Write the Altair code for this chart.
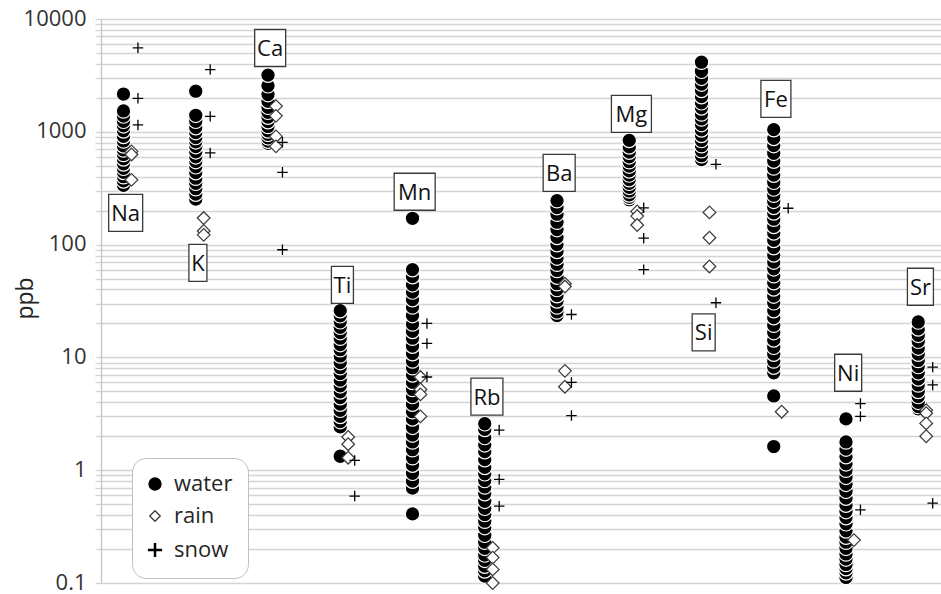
import altair as alt
import pandas as pd

# Trace-element concentrations (ppb) in stream water, rain and snow samples
elements = ["Na", "K", "Ca", "Ti", "Mn", "Rb", "Ba", "Mg", "Si", "Fe", "Ni", "Sr"]

water = {
    "Na": [2160, 1530, 1380, 1240, 1130, 1020, 910, 830, 750, 690, 630, 575, 520, 475, 437, 400, 367, 335],
    "K": [2290, 1400, 1240, 1090, 985, 890, 815, 740, 665, 600, 545, 490, 435, 388, 350, 313, 280, 253],
    "Ca": [3180, 2560, 2140, 1860, 1650, 1490, 1350, 1230, 1115, 1020, 950, 885, 827, 790],
    "Ti": [26, 23.4, 20.7, 18.5, 16.6, 14.8, 13, 11.7, 10.3, 9, 8.1, 7.2, 6.3, 5.6, 4.95, 4.4,
           3.85, 3.4, 3.0, 2.7, 2.42, 1.33],
    "Mn": [171, 60, 52, 44, 38, 32.5, 28, 23.5, 19.8, 17, 14.8, 12.6, 10.8, 9.3, 8.1, 7, 6, 5.2,
           4.5, 3.85, 3.3, 2.85, 2.4, 2.05, 1.78, 1.52, 1.29, 1.11, 0.94, 0.8, 0.695, 0.41],
    "Rb": [2.58, 2.3, 1.95, 1.68, 1.46, 1.24, 1.06, 0.93, 0.81, 0.71, 0.62, 0.53, 0.46, 0.405,
           0.353, 0.31, 0.265, 0.23, 0.203, 0.177, 0.159, 0.141, 0.128, 0.115],
    "Ba": [245, 213, 186, 158, 136, 116, 100, 87, 76, 67, 59, 51.5, 45, 40, 35.3, 31.7, 28, 25.3, 23.5],
    "Mg": [840, 735, 660, 600, 543, 497, 450, 414, 377, 350, 322, 299, 276, 262, 250],
    "Si": [4140, 3440, 2980, 2650, 2330, 2050, 1810, 1630, 1440, 1300, 1160, 1040, 930, 837,
           753, 680, 614, 567],
    "Fe": [1045, 875, 755, 645, 550, 478, 413, 357, 311, 274, 242, 214, 191, 168, 145, 127, 109,
           94, 81, 70, 61, 53, 46, 40.5, 35, 30.5, 26, 22.5, 19.3, 16.6, 14.3, 12.3, 10.7, 9.3,
           8.2, 7.3, 4.55, 1.62],
    "Ni": [2.85, 1.78, 1.54, 1.32, 1.14, 1.0, 0.865, 0.75, 0.65, 0.565, 0.49, 0.43, 0.38, 0.335,
           0.29, 0.255, 0.23, 0.203, 0.181, 0.163, 0.146, 0.134, 0.123, 0.112],
    "Sr": [20.6, 17.9, 15.7, 13.9, 12.1, 10.7, 9.4, 8.3, 7.3, 6.45, 5.7, 5.0, 4.5, 4.0, 3.67, 3.5],
}

rain = {
    "Na": [670, 630, 375],
    "K": [172, 132, 122],
    "Ca": [1690, 1385, 910, 743],
    "Ti": [1.97, 1.70, 1.29],
    "Mn": [6.7, 5.2, 4.7, 3.0],
    "Rb": [0.205, 0.168, 0.132, 0.1],
    "Ba": [45, 42.5, 7.6, 5.5],
    "Mg": [197, 179, 149],
    "Si": [193, 115, 64],
    "Fe": [3.3],
    "Ni": [0.24],
    "Sr": [3.4, 3.2, 2.6, 2.0],
}

snow = {
    "Na": [5550, 1980, 1150],
    "K": [3560, 1370, 650],
    "Ca": [807, 437, 90],
    "Ti": [1.22, 0.59],
    "Mn": [20, 13.3, 6.7],
    "Rb": [2.27, 0.83, 0.48],
    "Ba": [24, 6, 3.05],
    "Mg": [212, 114, 60],
    "Si": [515, 30.5],
    "Fe": [210],
    "Ni": [3.9, 3.0, 0.445],
    "Sr": [8.2, 5.7, 0.51],
}

# level (ppb) at which each element's name tag sits
label_level = [191, 69, 5530, 44, 294, 4.49, 432, 1443, 16.7, 1955, 7.31, 42.3]

sample_types = ["water", "rain", "snow"]

# ---- styling -------------------------------------------------------------
FONT = "Open Sans"
TEXT = "#262626"
GRID = "#d4d4d4"
type_offset = {"water": 0.0, "rain": 0.11, "snow": 0.2}
fill_of = {"water": "#000000", "rain": "#ffffff", "snow": "transparent"}
stroke_of = {"water": "#ffffff", "rain": "#3c3c3c", "snow": "#000000"}
size_of = {"water": 210, "rain": 110, "snow": 200}
width_of = {"water": 1.2, "rain": 1.3, "snow": 2.5}
tag_width = {"Na": 34, "K": 18, "Ca": 31, "Ti": 22, "Mn": 41, "Rb": 32, "Ba": 32,
             "Mg": 40, "Si": 23, "Fe": 30, "Ni": 27, "Sr": 26}
TAG_H = 37
TAG_SIZE = 400  # custom paths scale by sqrt(size)/2 = 10 px per unit
plus_path = "M-1,0L1,0M0,-1L0,1"

# ---- tables ----------------------------------------------------------------
rows = []
for kind, table in (("water", water), ("rain", rain), ("snow", snow)):
    for i, el in enumerate(elements):
        vals = sorted(table[el]) if kind == "water" else table[el]
        for v in vals:
            rows.append({"element": el, "sample": kind,
                         "xpos": i + 1 + type_offset[kind], "ppb": v})
points_df = pd.DataFrame(rows)

tags_df = pd.DataFrame({
    "element": elements,
    "xpos": [i + 1.03 for i in range(len(elements))],
    "ppb": label_level,
})
tag_paths = []
for el in elements:
    hw = tag_width[el] / 20
    hh = TAG_H / 20
    tag_paths.append(f"M{-hw},{-hh}H{hw}V{hh}H{-hw}Z")


def by_sample(style):
    """Per-entry legend style as a Vega expression on the entry's value."""
    parts = [f"datum.value === '{k}' ? {repr(v)}" for k, v in style.items()]
    return alt.ExprRef(" : ".join(parts) + " : null")


# ---- scales / axes ---------------------------------------------------------
tick_values = [round(k * 10 ** e, 4) for e in range(-1, 4) for k in range(1, 10)] + [10000]

x_enc = alt.X("xpos:Q", scale=alt.Scale(domain=[0.6886, 12.315], nice=False, zero=False),
              axis=None)
y_scale = alt.Scale(type="log", domain=[0.1, 10000], nice=False)
y_axis = alt.Axis(
    title="ppb", values=tick_values, format="~g",
    labelExpr="indexof([0.1, 1, 10, 100, 1000, 10000], datum.value) >= 0 ? datum.label : ''",
    labelFont=FONT, labelFontSize=22, labelColor="#333333", labelPadding=9, labelOffset=-1,
    tickSize=6, tickColor=GRID, tickWidth=1.3,
    grid=True, gridColor=GRID, gridWidth=1.3,
    domainColor="#c4c4c4", domainWidth=1.3,
    titleFont=FONT, titleFontSize=23, titleFontWeight="normal", titleColor="#222222",
    titleX=-69, titleY=279, titleAngle=270, titleAlign="center", titleBaseline="alphabetic",
)

legend = alt.Legend(
    title=None, orient="none", legendX=31, legendY=439, direction="vertical",
    fillColor="white", strokeColor="#c0c0c0", cornerRadius=14, padding=15,
    labelFont=FONT, labelFontSize=22, labelColor=TEXT, labelOffset=8, rowPadding=10,
    symbolOffset=-3,
    symbolFillColor=by_sample(fill_of),
    symbolStrokeColor=by_sample(stroke_of),
    symbolSize=by_sample(size_of),
    symbolStrokeWidth=by_sample(width_of),
    symbolOpacity=1,
)


def sample_scale(style):
    return alt.Scale(domain=sample_types, range=[style[k] for k in sample_types])


points = alt.Chart(points_df).mark_point(opacity=1, fillOpacity=1, strokeOpacity=1).encode(
    x=x_enc,
    y=alt.Y("ppb:Q", scale=y_scale, axis=y_axis),
    shape=alt.Shape("sample:N", scale=alt.Scale(domain=sample_types,
                                                range=["circle", "diamond", plus_path]),
                    legend=legend),
    fill=alt.Fill("sample:N", scale=sample_scale(fill_of), legend=None),
    stroke=alt.Stroke("sample:N", scale=sample_scale(stroke_of), legend=None),
    size=alt.Size("sample:N", scale=sample_scale(size_of), legend=None),
    strokeWidth=alt.StrokeWidth("sample:N", scale=sample_scale(width_of), legend=None),
)

tag_boxes = alt.Chart(tags_df).mark_point(
    filled=False, fill="white", fillOpacity=1, stroke="#3a3a3a", strokeWidth=1.3,
    opacity=1, size=TAG_SIZE,
).encode(
    x=x_enc,
    y=alt.Y("ppb:Q", scale=y_scale),
    shape=alt.Shape("element:N", scale=alt.Scale(domain=elements, range=tag_paths), legend=None),
)

tag_text = alt.Chart(tags_df).mark_text(
    font=FONT, fontSize=22, color="#111111", align="center", baseline="middle", dy=1,
).encode(
    x=x_enc,
    y=alt.Y("ppb:Q", scale=y_scale),
    text="element:N",
)

chart = alt.layer(points, tag_boxes, tag_text).resolve_scale(
    shape="independent"
).properties(
    width=840, height=564,
    autosize=alt.AutoSizeParams(type="none"),
    padding={"left": 101, "top": 19, "right": 0, "bottom": 11},
    background="white",
).configure_view(strokeWidth=0)

chart.save("out.html", embed_options={"renderer": "svg", "actions": False})
